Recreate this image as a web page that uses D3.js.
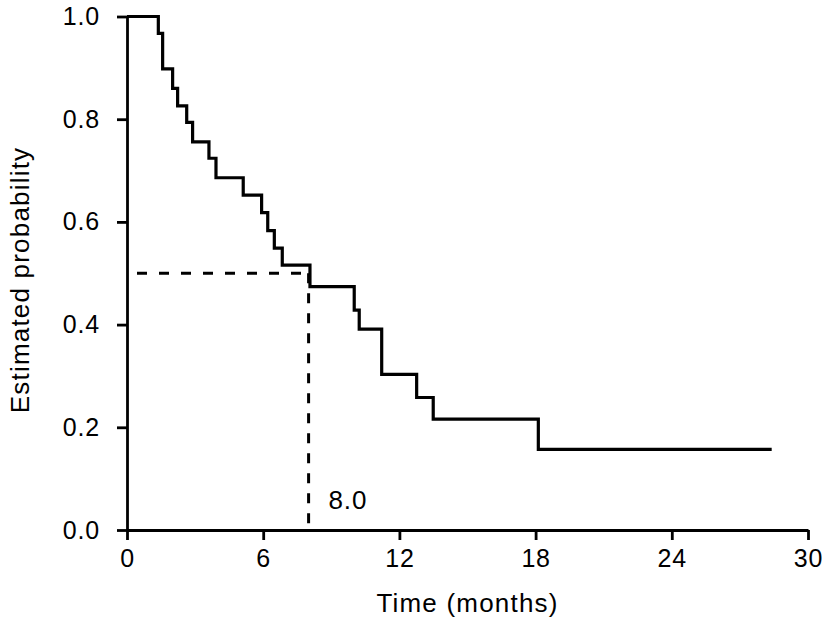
<!DOCTYPE html>
<html>
<head>
<meta charset="utf-8">
<script src="https://cdn.jsdelivr.net/npm/d3@7"></script>
<style>
  html, body { margin: 0; padding: 0; background: #fff; }
  svg { display: block; }
  text { font-family: "Liberation Sans", Arial, Helvetica, sans-serif; fill: #000; }
</style>
</head>
<body>
<svg id="chart" width="822" height="624"></svg>
<script>
// Kaplan-Meier step data (time in months, estimated probability after the drop)
const stepTimes = [0, 1.38, 1.57, 2.01, 2.23, 2.63, 2.89, 3.61, 3.92, 5.12, 5.93, 6.20, 6.49, 6.84, 8.06, 10.01, 10.23, 11.22, 12.76, 13.49, 18.12, 28.4];
const stepProbs = [1.0, 0.967, 0.898, 0.860, 0.826, 0.794, 0.756, 0.724, 0.686, 0.652, 0.618, 0.583, 0.549, 0.516, 0.474, 0.428, 0.391, 0.303, 0.258, 0.216, 0.157, 0.157];
const xTicks = [0, 6, 12, 18, 24, 30];
const yTicks = [0.0, 0.2, 0.4, 0.6, 0.8, 1.0];
const medianTime = 8.0;
const medianProb = 0.5;
const medianLabel = "8.0";
const xTitle = "Time (months)";
const yTitle = "Estimated probability";

const svg = d3.select("#chart");
const x = d3.scaleLinear().domain([0, 30]).range([127, 808]);
const y = d3.scaleLinear().domain([0, 1]).range([530, 16.5]);

// Axes
const xAxis = d3.axisBottom(x).tickValues(xTicks).tickFormat(d3.format("d")).tickSize(10).tickSizeOuter(0).tickPadding(9);
const yAxis = d3.axisLeft(y).tickValues(yTicks).tickFormat(d3.format(".1f")).tickSize(10).tickSizeOuter(0).tickPadding(17);

const gx = svg.append("g").attr("transform", `translate(0,${y(0)})`).call(xAxis);
const gy = svg.append("g").attr("transform", `translate(${x(0)},0)`).call(yAxis);
[gx, gy].forEach(g => {
  g.select(".domain").attr("stroke", "#000").attr("stroke-width", 2.8);
  g.selectAll(".tick line").attr("stroke", "#000").attr("stroke-width", 2.8);
  g.selectAll(".tick text").attr("font-size", 25).attr("fill", "#000")
    .attr("letter-spacing", 0.8)
    .style("font-family", '"Liberation Sans", Arial, sans-serif');
});
gx.selectAll(".tick text").attr("dy", "0.71em");

// Median dashed reference lines
const dash = svg.append("g").attr("stroke", "#000").attr("stroke-width", 3).attr("fill", "none");
dash.append("line")
  .attr("x1", x(0) + 10).attr("x2", x(medianTime))
  .attr("y1", y(medianProb)).attr("y2", y(medianProb))
  .attr("stroke-dasharray", "10,12");
dash.append("line")
  .attr("x1", x(medianTime)).attr("x2", x(medianTime))
  .attr("y1", y(medianProb)).attr("y2", y(0))
  .attr("stroke-dasharray", "10,10");

// Survival curve
const pts = stepTimes.map((t, i) => [t, stepProbs[i]]);
const line = d3.line().x(d => x(d[0])).y(d => y(d[1])).curve(d3.curveStepAfter);
svg.append("path").datum(pts)
  .attr("d", line)
  .attr("fill", "none").attr("stroke", "#000").attr("stroke-width", 3.2)
  .attr("stroke-linejoin", "miter").attr("stroke-linecap", "butt");

// Median label
svg.append("text")
  .attr("x", x(medianTime) + 20).attr("y", 509)
  .attr("font-size", 26).attr("letter-spacing", 0.8)
  .text(medianLabel);

// Axis titles
svg.append("text")
  .attr("x", (x(0) + x(30)) / 2).attr("y", 612)
  .attr("text-anchor", "middle").attr("font-size", 26).attr("letter-spacing", 1.2)
  .text(xTitle);
svg.append("text")
  .attr("transform", `translate(29,280) rotate(-90)`)
  .attr("text-anchor", "middle").attr("font-size", 26).attr("letter-spacing", 1.2)
  .text(yTitle);
</script>
</body>
</html>
